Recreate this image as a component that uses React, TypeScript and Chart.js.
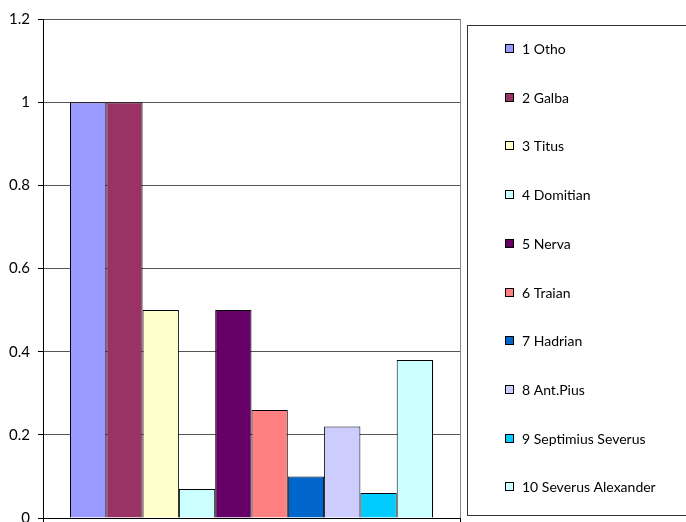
import React, { useEffect, useRef } from "react";
import { Chart, registerables } from "chart.js";

Chart.register(...registerables);

const seriesNames: string[] = [
  "1 Otho",
  "2 Galba",
  "3 Titus",
  "4 Domitian",
  "5 Nerva",
  "6 Traian",
  "7 Hadrian",
  "8 Ant.Pius",
  "9 Septimius Severus",
  "10 Severus Alexander",
];
const seriesValues: number[] = [1, 1, 0.5, 0.07, 0.5, 0.26, 0.1, 0.22, 0.06, 0.38];
const seriesColors: string[] = [
  "#9999FF",
  "#993366",
  "#FFFFCC",
  "#CCFFFF",
  "#660066",
  "#FF8080",
  "#0066CC",
  "#CCCCFF",
  "#00CCFF",
  "#CCFFFF",
];
const categories: string[] = [""];
const yMin = 0;
const yMax = 1.2;
const yStep = 0.2;

const FONT = "Lato, 'Liberation Sans', sans-serif";

const boxLegend = {
  id: "boxLegend",
  afterDraw(chart: any) {
    const ctx = chart.ctx as CanvasRenderingContext2D;
    ctx.save();
    ctx.strokeStyle = "#333";
    ctx.lineWidth = 1;
    ctx.strokeRect(467.5, 25.5, 225, 490);
    const ds = chart.data.datasets;
    ctx.font = `14px ${FONT}`;
    ctx.textBaseline = "middle";
    ctx.textAlign = "left";
    const y0 = 48;
    const step = 48.7;
    ds.forEach((d: any, i: number) => {
      const cy = Math.round(y0 + i * step);
      ctx.fillStyle = d.backgroundColor;
      ctx.fillRect(505, cy - 4, 9, 9);
      ctx.strokeStyle = "#000";
      ctx.strokeRect(505.5, cy - 3.5, 8, 8);
      ctx.fillStyle = "#000";
      ctx.fillText(d.label, 522, cy + 1);
    });
    ctx.restore();
  },
};

export default function App() {
  const ref = useRef<HTMLCanvasElement | null>(null);
  useEffect(() => {
    if (!ref.current) return;
    const chart = new Chart(ref.current, {
      type: "bar",
      data: {
        labels: categories,
        datasets: seriesNames.map((name, i) => ({
          label: name,
          data: [seriesValues[i]],
          backgroundColor: seriesColors[i],
          borderColor: "#000",
          borderWidth: 1,
          categoryPercentage: 0.8705,
          barPercentage: 1,
        })),
      },
      options: {
        responsive: false,
        animation: false,
        devicePixelRatio: 1,
        layout: { padding: { left: 0, top: 19, right: 226, bottom: 4 } },
        plugins: {
          legend: { display: false },
          tooltip: { enabled: false },
          title: { display: false },
        },
        scales: {
          x: {
            offset: true,
            ticks: { display: false },
            grid: {
              display: true,
              offset: true,
              drawOnChartArea: true,
              drawTicks: true,
              tickLength: 5,
              color: "#888",
              tickColor: "#000",
            },
            border: { display: true, color: "#000", width: 1 },
            afterFit: (s: any) => {
              s.height = 0;
            },
          },
          y: {
            min: yMin,
            max: yMax,
            ticks: {
              stepSize: yStep,
              color: "#000",
              font: { family: FONT, size: 15 },
              padding: 8,
              callback: (v: any) => String(Math.round(Number(v) * 10) / 10),
            },
            grid: {
              color: "#555",
              tickLength: 5,
              tickColor: "#000",
            },
            border: { display: true, color: "#000", width: 1 },
            afterFit: (s: any) => {
              s.width = 43;
              s.paddingTop = 0;
              s.paddingBottom = 0;
            },
          },
        },
      },
      plugins: [boxLegend],
    });
    return () => chart.destroy();
  }, []);
  return (
    <div style={{ position: "fixed", left: 0, top: 0, width: 686, height: 522, background: "#fff" }}>
      <canvas ref={ref} width={686} height={522} style={{ display: "block" }} />
    </div>
  );
}
